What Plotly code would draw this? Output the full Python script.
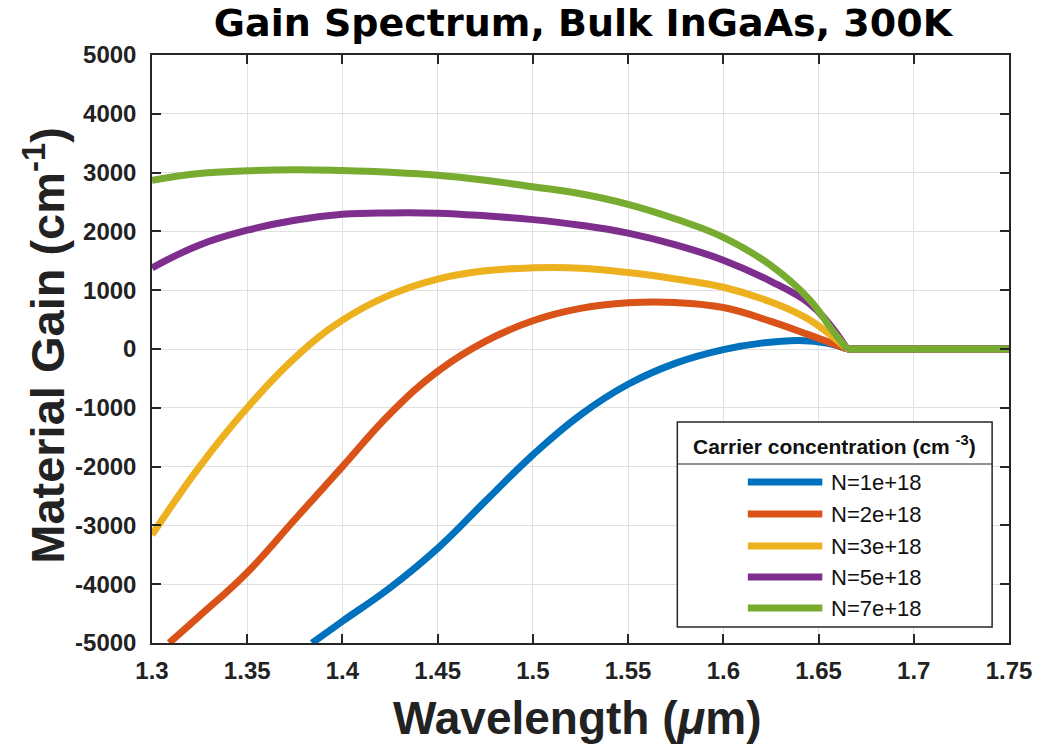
import plotly.graph_objects as go

# ---------------- data ----------------
series_names = ["N=1e+18", "N=2e+18", "N=3e+18", "N=5e+18", "N=7e+18"]
series_colors = ["#0072BD", "#D95319", "#EDB120", "#7E2F8E", "#77AC30"]

wl_n1 = [1.384, 1.40, 1.425, 1.45, 1.475, 1.50, 1.525, 1.55, 1.575, 1.60, 1.62, 1.64, 1.655, 1.665, 1.75]
gain_n1 = [-5000, -4630, -4060, -3390, -2590, -1800, -1120, -600, -240, -10, 100, 145, 95, 0, 0]

wl_n2 = [1.309, 1.325, 1.35, 1.375, 1.40, 1.425, 1.45, 1.475, 1.50, 1.525, 1.55, 1.575, 1.60, 1.625, 1.645, 1.665, 1.75]
gain_n2 = [-5000, -4540, -3800, -2900, -2000, -1100, -380, 130, 480, 690, 785, 790, 705, 470, 240, 0, 0]

wl_n3 = [1.30, 1.325, 1.35, 1.375, 1.40, 1.425, 1.45, 1.475, 1.50, 1.525, 1.55, 1.575, 1.60, 1.625, 1.645, 1.665, 1.75]
gain_n3 = [-3160, -2000, -1000, -150, 490, 920, 1190, 1330, 1380, 1375, 1300, 1190, 1050, 800, 500, 0, 0]

wl_n5 = [1.30, 1.325, 1.35, 1.375, 1.40, 1.425, 1.45, 1.475, 1.50, 1.525, 1.55, 1.575, 1.60, 1.625, 1.645, 1.655, 1.665, 1.75]
gain_n5 = [1380, 1770, 2020, 2190, 2290, 2315, 2310, 2265, 2200, 2105, 1970, 1770, 1510, 1150, 780, 450, 0, 0]

wl_n7 = [1.30, 1.325, 1.35, 1.375, 1.40, 1.425, 1.45, 1.475, 1.50, 1.525, 1.55, 1.575, 1.60, 1.625, 1.645, 1.657, 1.665, 1.75]
gain_n7 = [2870, 2985, 3030, 3050, 3035, 3005, 2955, 2870, 2760, 2640, 2460, 2210, 1900, 1420, 850, 330, 0, 0]

x_tick_vals = [1.3, 1.35, 1.4, 1.45, 1.5, 1.55, 1.6, 1.65, 1.7, 1.75]
x_tick_text = ["1.3", "1.35", "1.4", "1.45", "1.5", "1.55", "1.6", "1.65", "1.7", "1.75"]
y_tick_vals = [-5000, -4000, -3000, -2000, -1000, 0, 1000, 2000, 3000, 4000, 5000]
y_tick_text = ["-5000", "-4000", "-3000", "-2000", "-1000", "0", "1000", "2000", "3000", "4000", "5000"]

all_wl = [wl_n1, wl_n2, wl_n3, wl_n5, wl_n7]
all_gain = [gain_n1, gain_n2, gain_n3, gain_n5, gain_n7]

# ---------------- layout geometry (pixels) ----------------
W, H = 1044, 751
L, R, T, B = 152, 1015, 55, 643
PW, PH = R - L, B - T


def px_x(px):
    return (px - L) / PW


def px_y(py):
    return (B - py) / PH


fig = go.Figure()
for name, color, wl, g in zip(series_names, series_colors, all_wl, all_gain):
    k = len(g) - 1
    for i in range(len(g) - 1):
        if g[i] == 0 and g[i + 1] == 0:
            k = i
            break
    # curved part (smooth) and the flat zero-gain part beyond the band edge
    fig.add_trace(go.Scatter(x=wl[:k + 1], y=g[:k + 1], mode="lines", name=name,
                             line=dict(color=color, width=7, shape="spline", smoothing=1.2),
                             legendgroup=name, showlegend=False))
    fig.add_trace(go.Scatter(x=wl[k:], y=g[k:], mode="lines", name=name,
                             line=dict(color=color, width=7),
                             legendgroup=name, showlegend=False))

axis_common = dict(
    showline=True, linecolor="#262626", linewidth=1.5, mirror="ticks",
    ticks="inside", ticklen=9, tickwidth=1.5, tickcolor="#262626",
    showgrid=True, gridcolor="#e0e0e0", gridwidth=1, zeroline=False,
    tickfont=dict(family="Liberation Sans, Arial", size=24, color="#222222", weight="bold"),
)

fig.update_xaxes(range=[1.3, 1.75], tickvals=x_tick_vals, ticktext=x_tick_text,
                 ticklabelstandoff=5, **axis_common)
fig.update_yaxes(range=[-5000, 5000], tickvals=y_tick_vals, ticktext=y_tick_text,
                 ticklabelstandoff=9, **axis_common)

annotations = [
    dict(text="Wavelength (<i>μ</i>m)", x=px_x(580), y=px_y(718), xref="paper", yref="paper",
         xanchor="center", yanchor="middle", showarrow=False,
         font=dict(family="Liberation Sans, Arial", size=46, color="#222222", weight="bold")),
    dict(text="Material Gain (cm<sup>-1</sup>)", x=px_x(44), y=px_y(345), xref="paper", yref="paper",
         xanchor="center", yanchor="middle", showarrow=False, textangle=-90,
         font=dict(family="Liberation Sans, Arial", size=47, color="#222222", weight="bold")),
    dict(text="Carrier concentration (cm <sup>-3</sup>)", x=px_x(839), y=px_y(445), xref="paper", yref="paper",
         xanchor="center", yanchor="middle", showarrow=False,
         font=dict(family="Liberation Sans, Arial", size=21, color="#111111", weight="bold")),
]

shapes = [
    dict(type="rect", xref="paper", yref="paper", x0=px_x(681), x1=px_x(998), y0=px_y(627), y1=px_y(422),
         line=dict(color="#262626", width=1.5), fillcolor="white", layer="above"),
    dict(type="line", xref="paper", yref="paper", x0=px_x(681), x1=px_x(998), y0=px_y(464), y1=px_y(464),
         line=dict(color="#262626", width=1.2), layer="above"),
]

row_y = [482, 514, 546, 577, 608]
for name, color, ry in zip(series_names, series_colors, row_y):
    shapes.append(dict(type="line", xref="paper", yref="paper", x0=px_x(752), x1=px_x(827),
                       y0=px_y(ry), y1=px_y(ry), line=dict(color=color, width=7), layer="above"))
    annotations.append(dict(text=name, x=px_x(834), y=px_y(ry), xref="paper", yref="paper",
                            xanchor="left", yanchor="middle", showarrow=False,
                            font=dict(family="Liberation Sans, Arial", size=22, color="#111111")))

fig.update_layout(
    width=W, height=H,
    margin=dict(l=L, r=W - R, t=T, b=H - B, pad=0),
    paper_bgcolor="white", plot_bgcolor="white",
    showlegend=False,
    title=dict(text="Gain Spectrum, Bulk InGaAs, 300K", x=px_x(586), xref="paper", xanchor="center",
               y=1 - 23 / H, yref="container", yanchor="middle",
               font=dict(family="DejaVu Sans, Liberation Sans", size=38, color="#000000", weight="bold")),
    annotations=annotations,
    shapes=shapes,
)

fig.write_html("out.html", config={"displayModeBar": False},
               post_script="document.body.style.margin='0px';document.body.style.overflow='hidden';")
